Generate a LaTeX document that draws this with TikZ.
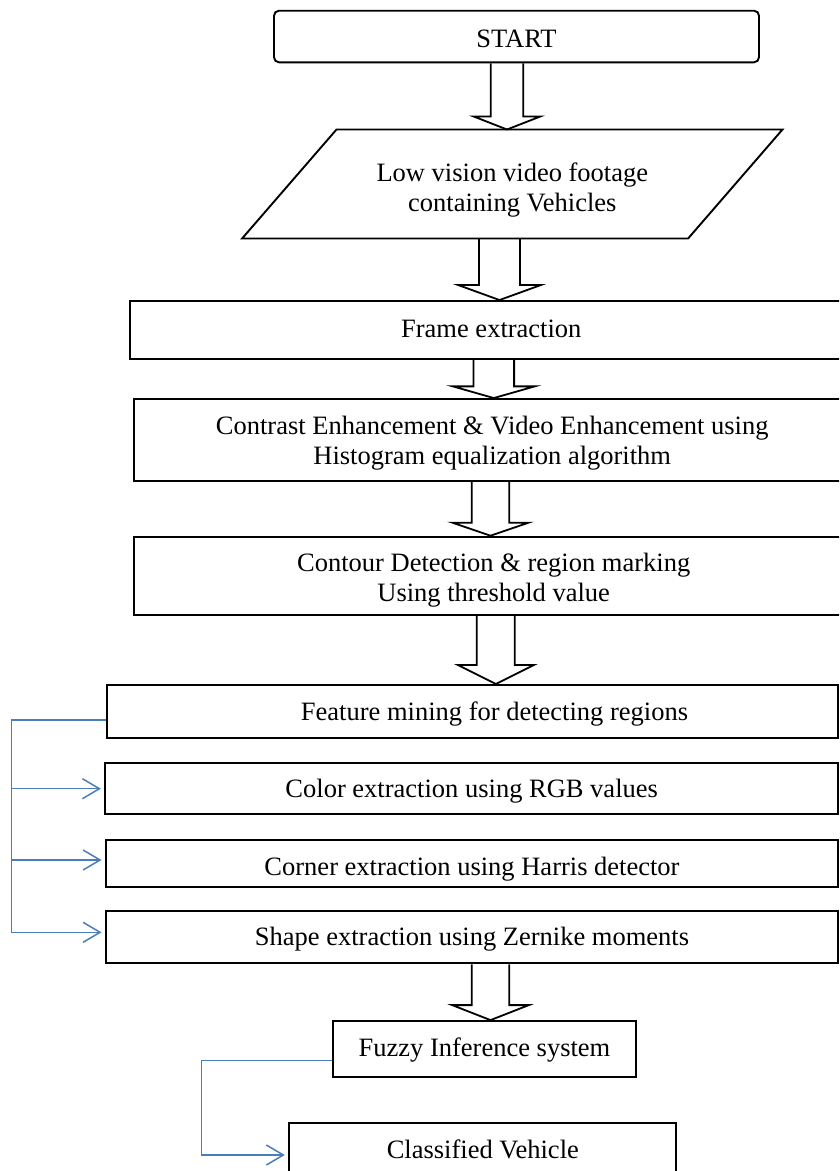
\documentclass[tikz,border=0pt]{standalone}
\usepackage{fontspec}
\setmainfont{Liberation Serif}
\usetikzlibrary{calc,arrows.meta}
\definecolor{connblue}{RGB}{74,126,187}
\newcommand\blockarr[6]{% from, to, x centre, shaft half width, head half width, head length
  \draw[blockarrow] let \p1=(#1.south), \p2=(#2.north) in
    ({(#3-#4)*1pt},\y1) -- ({(#3-#4)*1pt},{\y2+#6pt}) -- ({(#3-#5)*1pt},{\y2+#6pt})
    -- ({#3*1pt},\y2) -- ({(#3+#5)*1pt},{\y2+#6pt}) -- ({(#3+#4)*1pt},{\y2+#6pt})
    -- ({(#3+#4)*1pt},\y1);}
\begin{document}
\begin{tikzpicture}[x=1pt,y=-1pt,
  txt/.style={font=\fontsize{26.5}{30}\selectfont, inner sep=0pt},
  box/.style={txt, draw=black, line width=1.9pt, rectangle},
  bl/.style={text height=#1, text depth=0pt},
  blockarrow/.style={draw=black, line width=1.8pt, line join=miter},
  bline/.style={draw=connblue, line width=1.5pt},
  conn/.style={bline, -{Straight Barb[length=17pt,width=20pt]}, shorten >=3.5pt}]
\useasboundingbox (0,0) rectangle (839,1171);
\clip (0,0) rectangle (839,1171);

\node[box, rounded corners=5pt, minimum width=485pt, minimum height=51.6pt, bl=22.4pt] (start) at (516.5,36.5) {START};

\node[txt, minimum width=540pt, minimum height=108.6pt, align=center, bl=55.4pt] (input) at (512.3,184) {Low vision video footage\\containing Vehicles};
\draw[line width=1.9pt] ($(input.north west)+(94.4,0)$) -- (input.north east) -- ($(input.south east)-(94.4,0)$) -- (input.south west) -- cycle;

\node[box, minimum width=722.6pt, minimum height=58pt, bl=15.4pt] (frame) at (491.3,330) {Frame extraction};

\node[box, align=center, minimum width=715.7pt, minimum height=82pt, bl=48.6pt] (contrast) at (492.2,440) {Contrast Enhancement \& Video Enhancement using\\Histogram equalization algorithm};

\node[box, align=center, minimum width=718.7pt, minimum height=78.3pt, bl=50.4pt] (contour) at (493.7,575.8) {Contour Detection \& region marking\\Using threshold value};

\node[box, minimum width=731.6pt, minimum height=52.7pt, bl=17.4pt] (feature) at (472.5,711.3) {\hspace*{44pt}Feature mining for detecting regions};

\node[box, minimum width=732.7pt, minimum height=50.7pt, bl=18pt] (color) at (471.7,788.7) {Color extraction using RGB values};

\node[box, minimum width=732pt, minimum height=46.7pt, bl=23.4pt] (corner) at (472,863.3) {Corner extraction using Harris detector};

\node[box, minimum width=732pt, minimum height=52.3pt, bl=17pt] (shape) at (472,937.2) {Shape extraction using Zernike moments};

\node[box, minimum width=302.4pt, minimum height=56.3pt, bl=13.6pt] (fuzzy) at (484.5,1049.2) {Fuzzy Inference system};

\node[box, minimum width=387pt, minimum height=72pt, text height=0pt, text depth=1.4pt] (classified) at (482.8,1159) {Classified Vehicle};

% block arrows
\blockarr{start}{input}{507}{16.2}{33.3}{13}
\blockarr{input}{frame}{499.5}{20.5}{41.3}{15}
\blockarr{frame}{contrast}{493.8}{20.3}{41}{11.7}
\blockarr{contrast}{contour}{490.5}{18.7}{38}{13}
\blockarr{contour}{feature}{495.8}{19}{38}{19}
\blockarr{shape}{fuzzy}{490.5}{18.7}{38.3}{15}

% blue connectors
\coordinate (featureout) at ([yshift=-8.7pt]feature.west);
\coordinate (bus) at (11.7,720);
\coordinate (cornerin) at ([yshift=3.3pt]corner.west);
\coordinate (shapein) at ([yshift=4.9pt]shape.west);
\draw[conn] (featureout) -- (bus) |- (shapein);
\draw[conn] (bus |- color.west) -- (color.west);
\draw[conn] (bus |- cornerin) -- (cornerin);

\coordinate (fuzzyout) at ([yshift=-11.5pt]fuzzy.west);
\coordinate (turn) at (201.7,1060.7);
\coordinate (classin) at ([yshift=4pt]classified.west);
\draw[conn] (fuzzyout) -- (turn) |- (classin);
\end{tikzpicture}
\end{document}
